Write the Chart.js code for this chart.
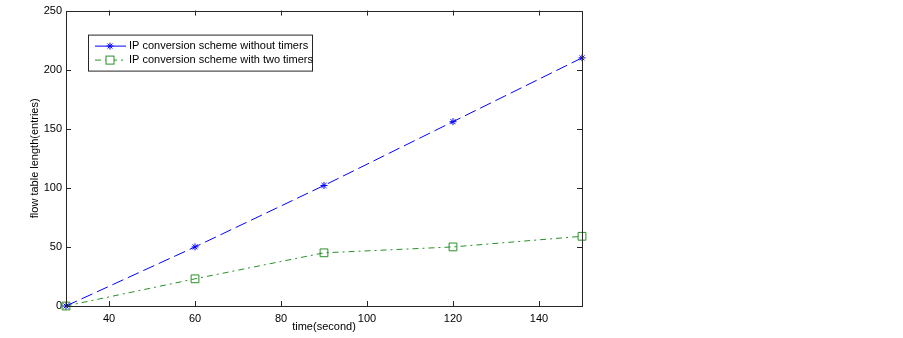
<!DOCTYPE html>
<html>
<head>
<meta charset="utf-8">
<script src="https://cdn.jsdelivr.net/npm/chart.js@4"></script>
<style>
  html, body { margin: 0; padding: 0; background: #fff; }
  #wrap { width: 903px; height: 338px; }
</style>
</head>
<body>
<div id="wrap"><canvas id="chart" width="903" height="338"></canvas></div>
<script>
// --- data ---
const timeSeconds = [30, 60, 90, 120, 150];
const withoutTimers = [0, 50, 102, 156, 210];
const withTwoTimers = [0, 23, 45, 50, 59];
const xTicks = [40, 60, 80, 100, 120, 140];
const yTicks = [0, 50, 100, 150, 200, 250];
const seriesNames = ['IP conversion scheme without timers', 'IP conversion scheme with two timers'];

const blue = '#0000ff';
const green = '#2a8f2a';
const fontFamily = '"Liberation Sans", Arial, sans-serif';

const toPoints = (ys) => timeSeconds.map((x, i) => ({ x: x, y: ys[i] }));

// box + inward ticks on all four sides, like the matlab axes
const boxPlugin = {
    id: 'box',
    afterDatasetsDraw(chart) {
        const { ctx, chartArea: a, scales } = chart;
        ctx.save();
        ctx.strokeStyle = '#262626';
        ctx.lineWidth = 1;
        ctx.beginPath();
        xTicks.forEach(v => {
            const px = Math.round(scales.x.getPixelForValue(v)) + 0.5;
            ctx.moveTo(px, a.bottom); ctx.lineTo(px, a.bottom - 5);
            ctx.moveTo(px, a.top); ctx.lineTo(px, a.top + 5);
        });
        yTicks.forEach(v => {
            const py = Math.round(scales.y.getPixelForValue(v)) + 0.5;
            ctx.moveTo(a.left, py); ctx.lineTo(a.left + 5, py);
            ctx.moveTo(a.right, py); ctx.lineTo(a.right - 5, py);
        });
        ctx.stroke();
        ctx.strokeRect(Math.round(a.left) + 0.5, Math.round(a.top) + 0.5,
            Math.round(a.right - a.left), Math.round(a.bottom - a.top));
        ctx.restore();
    }
};

// legend box inside the axes, upper left
const legendPlugin = {
    id: 'insideLegend',
    afterDraw(chart) {
        const { ctx, chartArea: a } = chart;
        const x0 = a.left + 22, y0 = a.top + 24, w = 224, h = 36;
        ctx.save();
        ctx.fillStyle = '#fff';
        ctx.fillRect(x0, y0, w, h);
        ctx.strokeStyle = '#262626';
        ctx.lineWidth = 1;
        ctx.strokeRect(x0 + 0.5, y0 + 0.5, w, h);
        ctx.font = '11px ' + fontFamily;
        ctx.textBaseline = 'middle';
        const rows = [
            { color: blue, dash: [], marker: 'star' },
            { color: green, dash: [6, 4, 2, 4], marker: 'rect' }
        ];
        rows.forEach((r, i) => {
            const y = y0 + 11 + i * 14 + 0.5;
            ctx.strokeStyle = r.color;
            ctx.setLineDash(r.dash);
            ctx.beginPath();
            ctx.moveTo(x0 + 7, y); ctx.lineTo(x0 + 38, y);
            ctx.stroke();
            ctx.setLineDash([]);
            const mx = x0 + 22;
            if (r.marker === 'rect') {
                ctx.fillStyle = '#fff';
                ctx.fillRect(mx - 4, y - 4, 8, 8);
                ctx.strokeRect(mx - 4, y - 4, 8, 8);
            } else {
                Chart.helpers.drawPoint(ctx, { pointStyle: 'star', radius: 3.5, borderWidth: 1 }, mx, y);
            }
            ctx.fillStyle = '#000';
            ctx.fillText(seriesNames[i], x0 + 41, y);
        });
        ctx.restore();
    }
};

new Chart(document.getElementById('chart'), {
    type: 'line',
    data: {
        datasets: [
            {
                label: seriesNames[0],
                data: toPoints(withoutTimers),
                borderColor: blue,
                backgroundColor: blue,
                borderWidth: 1,
                borderDash: [12, 5],
                pointStyle: 'star',
                pointRadius: 3.5,
                pointBorderWidth: 1,
                pointBorderColor: blue,
                tension: 0,
                clip: false
            },
            {
                label: seriesNames[1],
                data: toPoints(withTwoTimers),
                borderColor: green,
                backgroundColor: 'rgba(0,0,0,0)',
                borderWidth: 1,
                borderDash: [6, 4, 2, 4],
                pointStyle: 'rect',
                pointRadius: 5.5,
                pointBorderWidth: 1,
                pointBorderColor: green,
                pointBackgroundColor: 'rgba(0,0,0,0)',
                tension: 0,
                clip: false
            }
        ]
    },
    options: {
        responsive: false,
        animation: false,
        events: [],
        layout: { padding: { left: 24, right: 321, top: 10, bottom: 0 } },
        plugins: { legend: { display: false }, tooltip: { enabled: false } },
        scales: {
            x: {
                type: 'linear',
                min: 30,
                max: 150,
                afterBuildTicks: (s) => { s.ticks = xTicks.map(v => ({ value: v })); },
                afterFit: (s) => { s.height = 32; },
                grid: { display: false, drawTicks: false },
                border: { display: false },
                ticks: { color: '#000', padding: 6, font: { family: fontFamily, size: 11 }, maxRotation: 0 },
                title: { display: true, text: 'time(second)', color: '#000', padding: { top: 0, bottom: 4 }, font: { family: fontFamily, size: 11 } }
            },
            y: {
                type: 'linear',
                min: 0,
                max: 250,
                afterBuildTicks: (s) => { s.ticks = yTicks.map(v => ({ value: v })); },
                afterFit: (s) => { s.width = 42; },
                grid: { display: false, drawTicks: false },
                border: { display: false },
                ticks: { color: '#000', padding: 4, font: { family: fontFamily, size: 11 } },
                title: { display: true, text: 'flow table length(entries)', color: '#000', padding: { top: 4, bottom: 0 }, font: { family: fontFamily, size: 11 } }
            }
        }
    },
    plugins: [boxPlugin, legendPlugin]
});
</script>
</body>
</html>
